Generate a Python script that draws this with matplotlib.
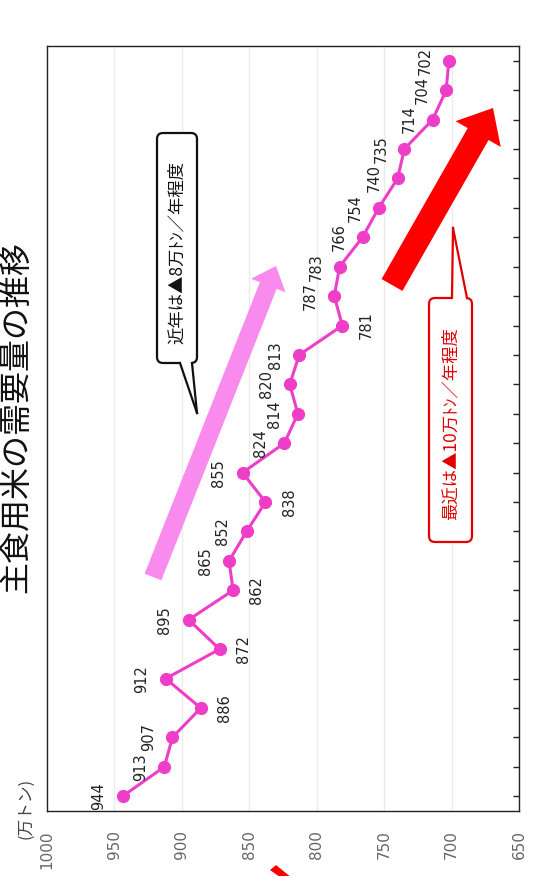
import numpy as np
import matplotlib
matplotlib.use("Agg")
import matplotlib.pyplot as plt
from matplotlib.patches import Polygon, FancyBboxPatch
from matplotlib.lines import Line2D
from matplotlib.transforms import IdentityTransform

plt.rcParams['font.family'] = ['Noto Sans CJK JP', 'DejaVu Sans']

# Annual demand for staple rice (10,000 t), oldest first
demand = [944, 913, 907, 886, 912, 872, 895, 862, 865, 852, 838, 855, 824,
          814, 820, 813, 781, 787, 783, 766, 754, 740, 735, 714, 704, 702]
# Which side of the point each value label sits on (L = higher-value side)
label_side = ['L', 'L', 'L', 'R', 'L', 'R', 'L', 'R', 'L', 'L', 'R', 'L', 'L',
              'L', 'L', 'L', 'R', 'L', 'L', 'L', 'L', 'L', 'L', 'L', 'L', 'L']
value_ticks = [1000, 950, 900, 850, 800, 750, 700, 650]

title = "主食用米の需要量の推移"
unit_label = "(万トン)"
note_recent = "近年は▲8万ﾄﾝ／年程度"
note_latest = "最近は▲10万ﾄﾝ／年程度"

W, H = 537, 876
fig = plt.figure(figsize=(W / 100, H / 100), dpi=100)

# axes placed in pixel terms (left, bottom edge, width, height)
ax_l, ax_top, ax_r, ax_bot = 47, 46, 519, 811
ax = fig.add_axes([ax_l / W, 1 - ax_bot / H, (ax_r - ax_l) / W, (ax_bot - ax_top) / H])

idx = np.arange(len(demand))
line_color = '#ee3ec8'
ax.plot(demand, idx, color=line_color, lw=2.2, marker='o', ms=8.5, zorder=3)

ax.set_xlim(1000, 650)
ax.set_ylim(-0.5, len(demand) - 0.5)

ax.set_xticks(value_ticks)
ax.set_xticklabels([str(v) for v in value_ticks], rotation=90,
                   family='DejaVu Sans', fontsize=11, color='#666666')
ax.tick_params(axis='x', length=0, pad=14)
for v in value_ticks[1:-1]:
    ax.axvline(v, color='#ebebeb', lw=1, zorder=0)

ax.set_yticks(idx)
ax.set_yticklabels([])
ax.tick_params(axis='y', left=False, right=True, direction='in', length=4,
               width=1, color='#222222')
for s in ax.spines.values():
    s.set_color('#222222')
    s.set_linewidth(1)

for i, (v, side) in enumerate(zip(demand, label_side)):
    dx = -17 if side == 'L' else 17
    ax.annotate(str(v), (v, i), xytext=(dx, 0), textcoords='offset points',
                rotation=90, ha='center', va='center', fontsize=10.5,
                family='DejaVu Sans', color='#222222', clip_on=True, zorder=4)

# helpers working in output pixel coordinates (origin top-left)
ident = IdentityTransform()


def P(x, y):
    return (x, H - y)


def arrow_poly(tail, tip, w, hw, hl):
    t = np.array(P(*tail), float)
    p = np.array(P(*tip), float)
    u = (p - t) / np.linalg.norm(p - t)
    n = np.array([-u[1], u[0]])
    b = p - u * hl
    return [t + n * w / 2, b + n * w / 2, b + n * hw / 2, p,
            b - n * hw / 2, b - n * w / 2, t - n * w / 2]


fig.patches.append(Polygon(arrow_poly((153, 577), (276, 266), 18, 37, 21),
                           closed=True, transform=ident, facecolor='#f98bef',
                           edgecolor='none', zorder=2))
fig.patches.append(Polygon(arrow_poly((392, 285), (493, 108), 24, 52, 30),
                           closed=True, transform=ident, facecolor='#ff0000',
                           edgecolor='none', zorder=2))
fig.patches.append(Polygon([P(270, 870), P(276, 865), P(292, 878), P(284, 880)],
                           closed=True, transform=ident, facecolor='#ff0000',
                           edgecolor='none', zorder=2))


def callout(x0, y0, x1, y1, base_a, base_b, tip, base_y, color, text, tx, ty, fs):
    box = FancyBboxPatch(P(x0, y1), x1 - x0, y1 - y0,
                         boxstyle='round,pad=0,rounding_size=6',
                         transform=ident, facecolor='white', edgecolor=color,
                         lw=1.6, zorder=5)
    fig.patches.append(box)
    inward = 3 if base_y == y1 else -3
    fig.patches.append(Polygon([P(base_a, base_y - inward), P(base_b, base_y - inward),
                                P(*tip)], closed=True, transform=ident,
                               facecolor='white', edgecolor='none', zorder=6))
    for bx in (base_a, base_b):
        fig.lines.append(Line2D([P(bx, base_y)[0], P(*tip)[0]],
                                [P(bx, base_y)[1], P(*tip)[1]],
                                transform=ident, color=color, lw=1.6, zorder=7))
    fig.text(tx / W, 1 - ty / H, text, rotation=90, ha='center', va='center',
             fontsize=fs, color=color, zorder=8)


callout(157, 133, 197, 363, 180, 192, (197, 413), 363, '#111111',
        note_recent, 177, 252, 12.5)
callout(429, 298, 472, 542, 452, 467, (453, 228), 298, '#e00000',
        note_latest, 451, 424, 12.5)

fig.text(16 / W, 1 - 417 / H, title, rotation=90, ha='center', va='center',
         fontsize=23, color='#111111')
fig.text(26 / W, 1 - 808 / H, unit_label, rotation=90, ha='center', va='center',
         fontsize=12, color='#444444')

fig.savefig('out.png', dpi=100)
